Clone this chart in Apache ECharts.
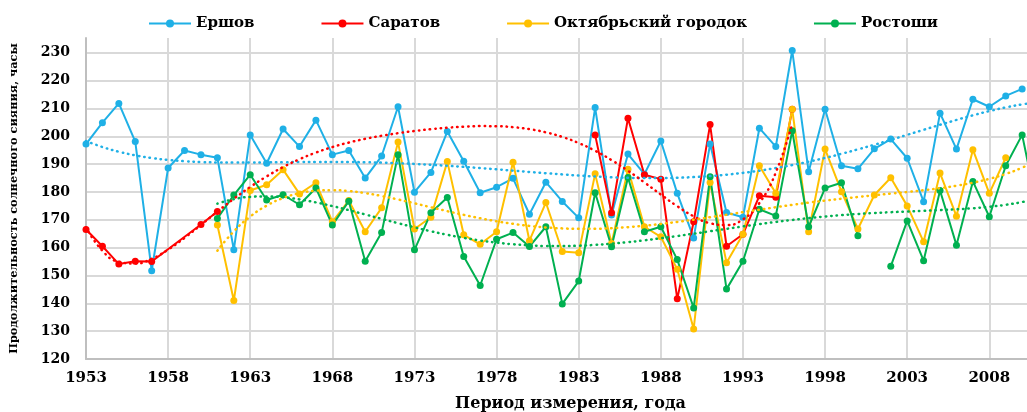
<!DOCTYPE html>
<html>
<head>
<meta charset="utf-8">
<script src="https://cdn.jsdelivr.net/npm/echarts@6/dist/echarts.min.js"></script>
<style>html,body{margin:0;padding:0;background:#fff}#main{width:1027px;height:412px}</style>
</head>
<body>
<div id="main"></div>
<script>
// годы по оси X (график обрезан справа, ось идёт до 2012)
var years = [];
for (var y = 1953; y <= 2012; y++) years.push(String(y));

// Ершов, 1953-2010
var ershov = [197.2,204.9,211.8,198.1,151.7,188.6,194.9,193.4,192.3,159.2,
  200.5,190.3,202.6,196.3,205.8,193.4,194.9,185,192.9,210.6,
  179.9,187,201.7,191,179.7,181.7,184.9,172,183.5,176.6,
  170.7,210.3,171.7,193.6,186.4,198.3,179.5,163.5,197.2,172.6,
  170.9,202.9,196.3,230.8,187.3,209.7,189.4,188.3,195.5,199,
  192.1,176.5,208.3,195.4,213.3,210.6,214.5,217];
// Саратов: ряд с пропусками
var saratovYears = [1953,1954,1955,1956,1957,1960,1961,1984,1985,1986,1987,1988,1989,1990,1991,1992,1993,1994,1995,1996];
var saratov = [166.5,160.5,154.1,155.1,155,168.3,173,200.5,172.5,206.5,186.2,184.6,141.6,169.3,204.2,160.5,164.8,178.6,178.1,209.7];
// Октябрьский городок, 1961-2009
var oktStart = 1961;
var okt = [168.1,141,180.5,182.6,188,179.3,183.3,169.3,176.9,165.7,
  174.3,197.9,166.7,170.9,190.9,164.6,161.2,165.7,190.7,162.5,
  176.2,158.6,158.2,186.5,161.5,188.2,167.5,163.9,152.2,130.8,
  183.4,154.6,164.8,189.4,179.5,209.7,165.7,195.4,180.1,166.7,
  178.9,185.1,175,162.1,186.8,171.3,195.2,179.5,192.3];
// Ростоши, 1961-2012 (2001 нет; 2011-2012 за краем рисунка, оценка)
var rostStart = 1961;
var rost = [170.5,178.9,186.2,177.1,179,175.4,181.4,168.1,176.7,155.1,
  165.4,193.4,159.2,172.5,178,156.8,146.4,163,165.4,160.4,
  167.5,139.8,148,179.7,160.3,185.2,165.7,167.5,155.7,138.3,
  185.5,145.1,155.1,173.8,171.4,202,167.5,181.4,183.3,164.3,
  null,153.3,169.6,155.3,180.5,160.9,183.8,171.1,189.4,200.5,172,165];

var names = ['Ершов','Саратов','Октябрьский городок','Ростоши'];
var colors = ['#1fb0e6','#ff0000','#ffc000','#00b050'];
var trendOrder = [5, 6, 5, 5];
var font = 'DejaVu Serif';

//выровнять ряд по годам
function align(start, vals){
    var out = [];
    for (var i = 0; i < years.length; i++) {
        var k = +years[i] - start;
        var v = (k >= 0 && k < vals.length) ? vals[k] : null;
        out.push(v == null ? '-' : v);
    }
    return out;
}
//полиномиальный тренд (МНК)
function polyFit(xs, ys, deg){
    var n = deg + 1, m = 0, i, j, k;
    for (i = 0; i < xs.length; i++) m += xs[i];
    m /= xs.length;
    var A = [], b = [];
    for (i = 0; i < n; i++) { A.push(new Array(n).fill(0)); b.push(0); }
    for (k = 0; k < xs.length; k++) {
        var t = (xs[k] - m) / 10;
        for (i = 0; i < n; i++) {
            b[i] += ys[k] * Math.pow(t, i);
            for (j = 0; j < n; j++) A[i][j] += Math.pow(t, i + j);
        }
    }
    for (i = 0; i < n; i++) {
        var p = i;
        for (j = i + 1; j < n; j++) if (Math.abs(A[j][i]) > Math.abs(A[p][i])) p = j;
        var tmp = A[i]; A[i] = A[p]; A[p] = tmp; tmp = b[i]; b[i] = b[p]; b[p] = tmp;
        for (j = i + 1; j < n; j++) {
            var f = A[j][i] / A[i][i];
            for (k = i; k < n; k++) A[j][k] -= f * A[i][k];
            b[j] -= f * b[i];
        }
    }
    var c = new Array(n).fill(0);
    for (i = n - 1; i >= 0; i--) {
        var s = b[i];
        for (k = i + 1; k < n; k++) s -= A[i][k] * c[k];
        c[i] = s / A[i][i];
    }
    return function(x){
        var t = (x - m) / 10, r = 0;
        for (var q = 0; q < n; q++) r += c[q] * Math.pow(t, q);
        return r;
    };
}
function trend(xs, ys, deg, from, to){
    var xx = [], yy = [];
    for (var i = 0; i < xs.length; i++) if (ys[i] != null) { xx.push(xs[i]); yy.push(ys[i]); }
    var f = polyFit(xx, yy, deg);
    return years.map(function(s){
        var yr = +s;
        return (yr >= from && yr <= to) ? +f(yr).toFixed(2) : '-';
    });
}
function range(start, len){
    var r = [];
    for (var i = 0; i < len; i++) r.push(start + i);
    return r;
}

//Саратов: пары [индекс, значение], 1958-59 соединены, после 1961 разрыв
var saratovData = [];
for (var i = 0; i < saratovYears.length; i++) {
    saratovData.push([saratovYears[i] - 1953, saratov[i]]);
    if (saratovYears[i] === 1961) saratovData.push([1962 - 1953, '-']);
}

function mainLine(idx, data){
    return {
        name: names[idx], type: 'line', data: data,
        symbol: 'circle', symbolSize: 7,
        lineStyle: {width: 2, color: colors[idx]},
        itemStyle: {color: colors[idx]},
        z: 3
    };
}
function trendLine(idx, data){
    return {
        name: names[idx] + ' тренд', type: 'line', data: data, smooth: true,
        showSymbol: false, silent: true,
        lineStyle: {width: 2.5, color: colors[idx], type: [0.5, 5], cap: 'round'},
        z: 4
    };
}

var chart = echarts.init(document.getElementById('main'));
var option = {
    animation: false,
    textStyle: {fontFamily: font},
    legend: {
        data: names, top: 11, left: 143, itemGap: 66, itemWidth: 42, itemHeight: 10,
        textStyle: {fontFamily: font, fontWeight: 'bold', fontSize: 15, color: '#000'}
    },
    grid: {left: 86, right: -28, top: 38, bottom: 53, containLabel: false, outerBoundsMode: 'none'},
    xAxis: {
        type: 'category', data: years, boundaryGap: false,
        name: 'Период измерения, года', nameLocation: 'middle', nameGap: 37,
        nameTextStyle: {fontFamily: font, fontWeight: 'bold', fontSize: 16, color: '#000'},
        axisLine: {lineStyle: {color: '#bfbfbf', width: 2}},
        axisTick: {show: false},
        axisLabel: {interval: 4, margin: 12, fontFamily: font, fontWeight: 'bold', fontSize: 15, color: '#000'},
        splitLine: {show: true, interval: 4, lineStyle: {color: '#d9d9d9', width: 2}}
    },
    yAxis: {
        type: 'value', min: 120, max: 235.3, interval: 10,
        name: 'Продолжительность солнечного сияния, часы', nameLocation: 'middle', nameGap: 66,
        nameTextStyle: {fontFamily: font, fontWeight: 'bold', fontSize: 11.3, color: '#000'},
        axisLine: {show: true, lineStyle: {color: '#bfbfbf', width: 2}},
        axisTick: {show: false},
        axisLabel: {showMaxLabel: false, margin: 16, fontFamily: font, fontWeight: 'bold', fontSize: 14, color: '#000'},
        splitLine: {show: true, showMaxLine: false, lineStyle: {color: '#d9d9d9', width: 2}}
    },
    series: [
        mainLine(0, align(1953, ershov)),
        mainLine(1, saratovData),
        mainLine(2, align(oktStart, okt)),
        mainLine(3, align(rostStart, rost)),
        trendLine(0, trend(range(1953, ershov.length), ershov, trendOrder[0], 1953, 2012)),
        trendLine(1, trend(saratovYears, saratov, trendOrder[1], 1953, 1996)),
        trendLine(2, trend(range(oktStart, okt.length), okt, trendOrder[2], 1961, 2012)),
        trendLine(3, trend(range(rostStart, rost.length), rost, trendOrder[3], 1961, 2012))
    ]
};
chart.setOption(option);
</script>
</body>
</html>
